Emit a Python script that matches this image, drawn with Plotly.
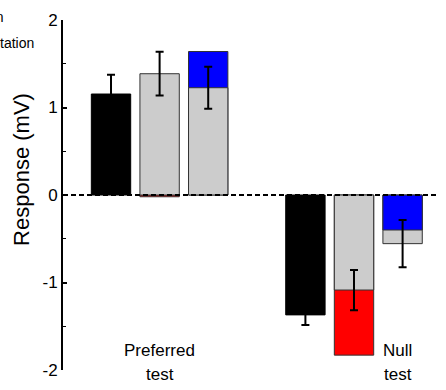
import plotly.graph_objects as go

# ---- data ----
positions_black = [0, 4]
black_vals = [1.154, -1.37]
black_err = [0.22, 0.115]

positions_gray = [1, 2, 5, 6]
gray_vals = [1.386, 1.226, -1.086, -0.556]
gray_err = [0.25, 0.24, 0.23, 0.27]

positions_red = [1, 5]
red_vals = [-0.02, -1.83]

positions_blue = [2, 6]
blue_vals = [1.64, -0.40]

group_labels = ["Preferred", "Null"]
group_label_x = [1, 5.9]
y_ticks = [-2, -1, 0, 1, 2]
y_tick_text = ["-2", "-1", "0", "1", "2"]

FONT = "Arial, Liberation Sans, sans-serif"
BW = 0.81
OUT = "#333333"

gray_map = dict(zip(positions_gray, gray_vals))
back_x, back_y, back_c = [], [], []
front_x, front_y, front_c = [], [], []
for xs, vs, col in [(positions_red, red_vals, "#ff0000"), (positions_blue, blue_vals, "#0000ff")]:
    for x, v in zip(xs, vs):
        g = gray_map.get(x, 0)
        if abs(v) >= abs(g) or (v * g) < 0:
            back_x.append(x); back_y.append(v); back_c.append(col)
        else:
            front_x.append(x); front_y.append(v); front_c.append(col)

fig = go.Figure()
fig.add_trace(go.Bar(x=positions_black, y=black_vals, width=BW,
                     marker=dict(color="black", line=dict(color="black", width=1)),
                     error_y=dict(type="data", array=black_err, color="black", thickness=2, width=4)))
fig.add_trace(go.Bar(x=back_x, y=back_y, width=BW,
                     marker=dict(color=back_c, line=dict(color=OUT, width=1))))
fig.add_trace(go.Bar(x=positions_gray, y=gray_vals, width=BW,
                     marker=dict(color="#cccccc", line=dict(color=OUT, width=1))))
fig.add_trace(go.Bar(x=front_x, y=front_y, width=BW,
                     marker=dict(color=front_c, line=dict(color=OUT, width=1))))
# error bars drawn on top
fig.add_trace(go.Bar(x=positions_gray, y=gray_vals, width=BW,
                     marker=dict(color="rgba(0,0,0,0)", line=dict(width=0)),
                     error_y=dict(type="data", array=gray_err, color="black", thickness=2, width=4)))

fig.add_shape(type="line", xref="paper", yref="y", x0=0, x1=0.977, y0=0, y1=0,
              line=dict(color="black", width=2, dash="5px,3px"), layer="above")

for lx, lab in zip(group_label_x, group_labels):
    fig.add_annotation(x=lx, y=0.057, xref="x", yref="paper", text=lab, showarrow=False,
                       font=dict(family=FONT, size=17, color="black"), yanchor="middle")
    fig.add_annotation(x=lx, y=-0.014, xref="x", yref="paper", text="test", showarrow=False,
                       font=dict(family=FONT, size=17, color="black"), yanchor="middle")

fig.add_annotation(x=-0.148, y=0.574, xref="paper", yref="paper", text="Response (mV)",
                   textangle=-90, showarrow=False, font=dict(family=FONT, size=22, color="black"))

fig.add_annotation(x=-0.0705 - 30/383, y=(370 - 17) / 350, xref="paper", yref="paper",
                   text="Linear prediction", showarrow=False, xanchor="right", yanchor="middle",
                   font=dict(family=FONT, size=14, color="black"))
fig.add_annotation(x=-0.0705, y=(370 - 43) / 350, xref="paper", yref="paper",
                   text="from adaptation", showarrow=False, xanchor="right", yanchor="middle",
                   font=dict(family=FONT, size=14, color="black"))

fig.update_layout(
    width=446, height=390, margin=dict(l=63, r=0, t=20, b=20),
    barmode="overlay", showlegend=False,
    paper_bgcolor="white", plot_bgcolor="white",
    font=dict(family=FONT, color="black"),
    xaxis=dict(visible=False, range=[-0.988, 6.893]),
    yaxis=dict(range=[-2, 2], tickvals=y_ticks, ticktext=y_tick_text, ticks="inside", ticklen=4,
               tickwidth=2, tickcolor="black", showline=True, linecolor="black", linewidth=2,
               showgrid=False, zeroline=False, tickfont=dict(family=FONT, size=17),
               minor=dict(dtick=0.5, ticks="inside", ticklen=3, tickcolor="black", tickwidth=1)),
)
fig.write_html("out.html", config={"displayModeBar": False},
               post_script="document.body.style.margin='0';document.body.style.overflow='hidden';")
